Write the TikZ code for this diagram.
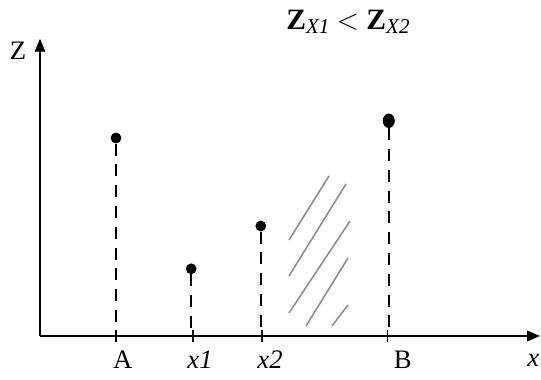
\documentclass[tikz,border=0pt]{standalone}
\usepackage{fontspec}
\setmainfont{Liberation Serif}
\usetikzlibrary{arrows.meta, shapes.geometric}
\tikzset{
    eje/.style={line width=1.1pt, -{Triangle[length=0.32cm,width=0.26cm]}},
    punto/.style={circle, fill=black, inner sep=0pt, minimum size=0.27cm},
    guia/.style={line width=1pt, dash pattern=on 0.3cm off 0.22cm},
    marca/.style={line width=1pt},
    rayado/.style={line width=1.1pt, black!45},
    etiqueta/.style={font=\fontsize{19}{21}\selectfont, inner sep=0pt},
}

\begin{document}
\begin{tikzpicture}
\useasboundingbox (-1.0,-1.1) rectangle (12.525,8.4);
% ejes
\coordinate (O) at (0,0);
\coordinate (xfin) at (12.5,0);
\coordinate (zfin) at (0,7.43);
\draw[eje] (O) -- (xfin);
\draw[eje] (O) -- (zfin);
\node[etiqueta] (lZ) at (-0.55,7.13) {Z};
\node[etiqueta] (lx) at (12.33,-0.6) {\textit{x}};
% titulo
\node[etiqueta, font=\fontsize{21}{23}\selectfont] (titulo) at (7.7,7.85)
    {\textbf{Z}\raisebox{-0.25ex}{\textit{\fontsize{15}{17}\selectfont X1}} $<$ \textbf{Z}\raisebox{-0.25ex}{\textit{\fontsize{15}{17}\selectfont X2}}};
% A
\node[punto] (pA) at (1.9,4.95) {};
\coordinate (tA) at (1.9,0);
\draw[guia] (pA) -- (tA);
\draw[marca] (tA) ++(0,0.15) -- ++(0,-0.3);
\node[etiqueta] (lA) at (2.07,-0.6) {A};
% x1
\node[punto] (p1) at (3.78,1.68) {};
\coordinate (t1) at (3.83,0);
\draw[guia] (p1) -- (p1 |- t1);
\draw[marca] (t1) ++(0,0.15) -- ++(0,-0.3);
\node[etiqueta] (l1) at (4.0,-0.6) {\textit{x1}};
% x2
\node[punto] (p2) at (5.52,2.75) {};
\coordinate (t2) at (5.55,0);
\draw[guia] (p2) -- (p2 |- t2);
\draw[marca] (t2) ++(0,0.15) -- ++(0,-0.3);
\node[etiqueta] (l2) at (5.75,-0.6) {\textit{x2}};
% B
\node[punto, ellipse, minimum width=0.3cm, minimum height=0.36cm] (pB) at (8.72,5.38) {};
\coordinate (tB) at (8.69,0);
\draw[guia] (pB) -- (pB |- tB);
\draw[marca] (tB) ++(0,0.15) -- ++(0,-0.3);
\node[etiqueta] (lB) at (9.07,-0.6) {B};
% zona rayada
\draw[rayado] (6.225,2.4) -- (7.225,4.0);
\draw[rayado] (6.225,1.5) -- (7.65,3.8);
\draw[rayado] (6.225,0.575) -- (7.75,2.875);
\draw[rayado] (6.65,0.25) -- (7.7,1.95);
\draw[rayado] (7.3,0.25) -- (7.7,0.775);
\end{tikzpicture}
\end{document}
